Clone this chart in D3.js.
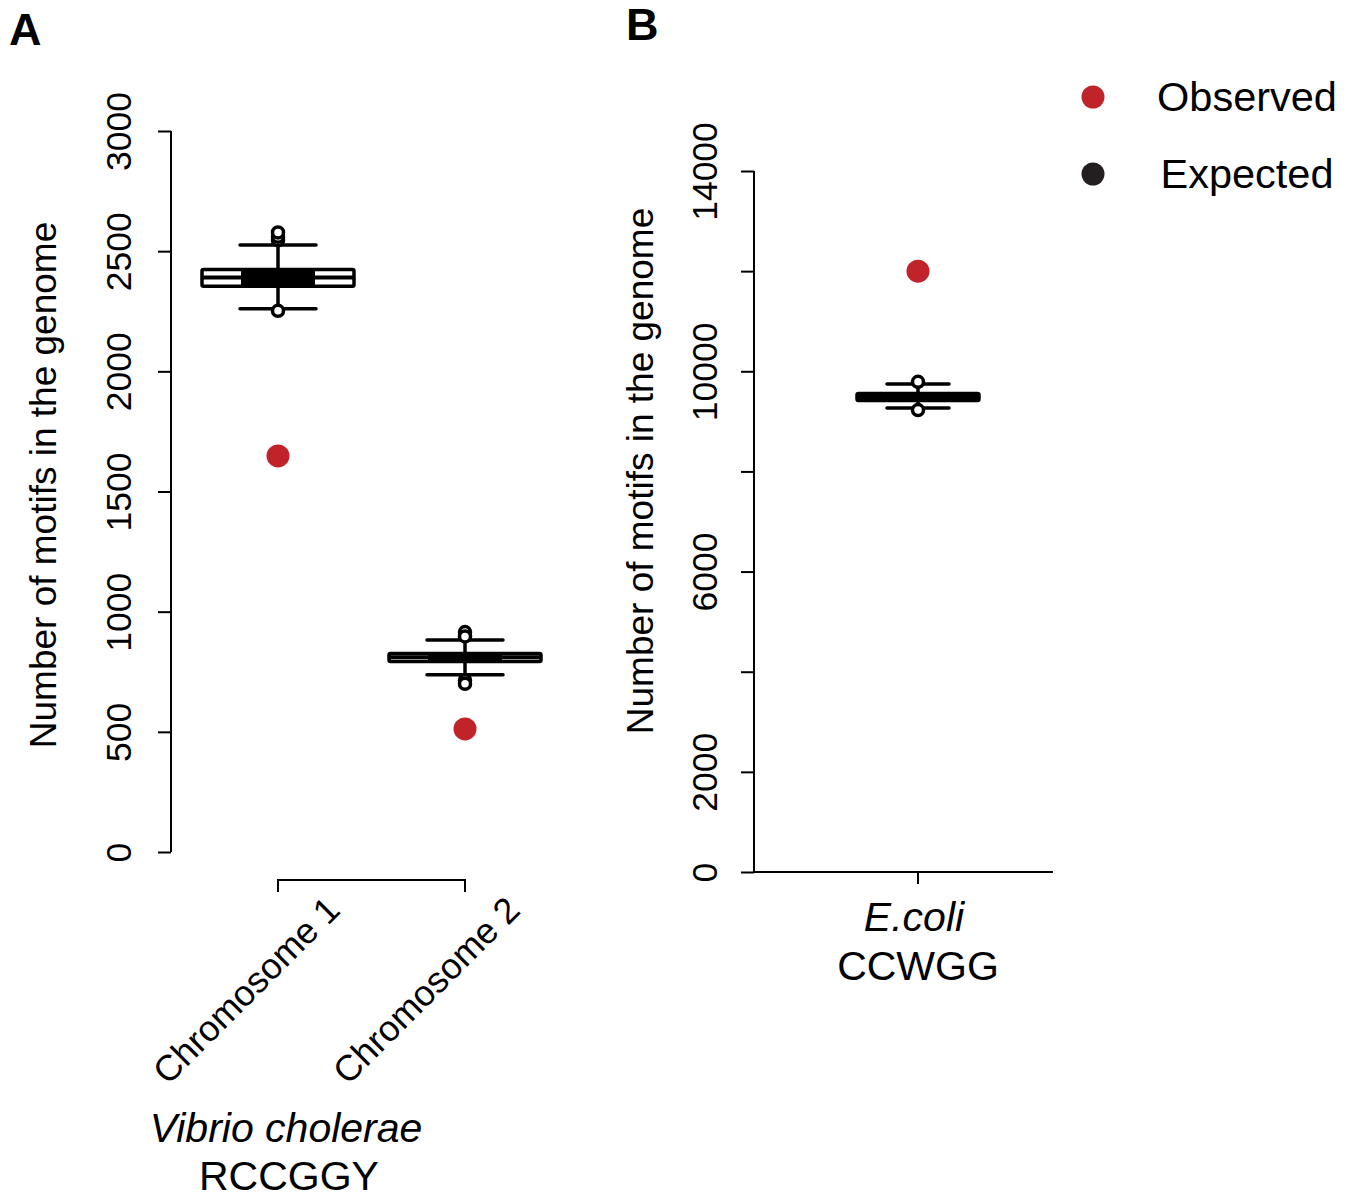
<!DOCTYPE html>
<html><head><meta charset="utf-8">
<script src="https://cdn.jsdelivr.net/npm/d3@7/dist/d3.min.js"></script>
<style>body{margin:0;background:#fff}svg{display:block}text{font-family:"Liberation Sans",Arial,Helvetica,sans-serif;fill:#000}</style>
</head><body>
<script>
// ---- data ----
const categoriesA = ["Chromosome 1", "Chromosome 2"];
// box stats: [lowerWhisker, Q1, median, Q3, upperWhisker]
const boxStatsA = [[2260, 2354, 2390, 2424, 2526], [737, 793, 810, 826, 882]];
const outliersA = [[2545, 2560, 2578, 2252], [915, 897, 715, 700]];
const observedA = [1648, 512];
const ticksA = [0, 500, 1000, 1500, 2000, 2500, 3000];

const categoriesB = ["E.coli"];
const boxStatsB = [[9267, 9417, 9486, 9556, 9746]];
const outliersB = [[9790, 9225]];
const observedB = [12000];
const ticksB = [0, 2000, 4000, 6000, 8000, 10000, 12000, 14000];
const tickLabelsB = ["0", "2000", "", "6000", "", "10000", "", "14000"];

const legendLabels = ["Observed", "Expected"];
const legendColors = ["#c1232b", "#231f20"];

const W = 1353, H = 1198;
const svg = d3.select("body").append("svg").attr("width", W).attr("height", H);
const red = "#c1232b";

function panel(opts) {
  const g = svg.append("g");
  const y = d3.scaleLinear().domain(opts.ydom).range(opts.yrange);
  const x = d3.scalePoint().domain(opts.cats).range(opts.xrange);
  const ax = d3.axisLeft(y).tickValues(opts.ticks).tickSize(13).tickSizeOuter(0)
    .tickFormat((d, i) => opts.tickLabels ? opts.tickLabels[i] : d);
  const yg = g.append("g").attr("transform", `translate(${opts.axisX},0)`).call(ax);
  yg.select(".domain").attr("stroke", "#000").attr("stroke-width", 2)
    .attr("d", `M0,${y(opts.ticks[0])}V${y(opts.ticks[opts.ticks.length-1])}`);
  yg.selectAll(".tick line").attr("stroke", "#000").attr("stroke-width", 2);
  yg.selectAll(".tick text").attr("font-size", 35.5).attr("text-anchor", "middle")
    .attr("x", 0).attr("dy", 0)
    .attr("transform", `translate(${opts.tickLabelX - opts.axisX},0) rotate(-90)`);
  g.append("text").attr("transform", `translate(${opts.ylabX},${opts.ylabY}) rotate(-90)`)
    .attr("text-anchor", "middle").attr("font-size", 37).text("Number of motifs in the genome");
  opts.stats.forEach((s, i) => {
    const cx = x(opts.cats[i]);
    const bg = g.append("g");
    bg.append("line").attr("x1", cx).attr("x2", cx).attr("y1", y(s[3])).attr("y2", y(s[4]))
      .attr("stroke", "#000").attr("stroke-width", 3.5);
    bg.append("line").attr("x1", cx).attr("x2", cx).attr("y1", y(s[1])).attr("y2", y(s[0]))
      .attr("stroke", "#000").attr("stroke-width", 3.5);
    [s[0], s[4]].forEach(v => bg.append("line").attr("x1", cx - opts.capHalf).attr("x2", cx + opts.capHalf)
      .attr("y1", y(v)).attr("y2", y(v)).attr("stroke", "#000").attr("stroke-width", 3.5).attr("stroke-linecap", "round"));
    bg.append("rect").attr("x", cx - opts.boxHalf).attr("width", 2 * opts.boxHalf)
      .attr("y", y(s[3])).attr("height", y(s[1]) - y(s[3]))
      .attr("fill", "#fff").attr("stroke", "#000").attr("stroke-width", 3.5).attr("rx", 1.5);
    bg.append("line").attr("x1", cx - opts.boxHalf).attr("x2", cx + opts.boxHalf)
      .attr("y1", y(s[2])).attr("y2", y(s[2])).attr("stroke", "#000").attr("stroke-width", opts.medW);
    bg.append("rect").attr("x", cx - opts.innerHalf).attr("width", 2 * opts.innerHalf)
      .attr("y", y(s[3])).attr("height", y(s[1]) - y(s[3])).attr("fill", "#000");
    opts.outliers[i].forEach(v => bg.append("circle").attr("cx", cx).attr("cy", y(v)).attr("r", 5.5)
      .attr("fill", "#fff").attr("stroke", "#000").attr("stroke-width", 3.5));
    bg.append("circle").attr("cx", cx).attr("cy", y(opts.observed[i])).attr("r", 11.5).attr("fill", red);
  });
  return {x, y, g};
}

// Panel A
const A = panel({ydom: [0, 3000], yrange: [852, 131], xrange: [278, 465], cats: categoriesA,
  ticks: ticksA, axisX: 171, tickLabelX: 131, ylabX: 56, ylabY: 485,
  stats: boxStatsA, outliers: outliersA, observed: observedA,
  boxHalf: 76, capHalf: 38, innerHalf: 37, medW: 4});
A.g.append("path").attr("d", `M${A.x(categoriesA[0])},892V880H${A.x(categoriesA[1])}V892`)
  .attr("fill", "none").attr("stroke", "#000").attr("stroke-width", 2);
const labelShift = [64, 57];
categoriesA.forEach((c, i) => {
  A.g.append("text").attr("transform", `translate(${A.x(c) + labelShift[i]},912) rotate(-45)`)
    .attr("text-anchor", "end").attr("font-size", 36).text(c);
});
A.g.append("text").attr("x", 286).attr("y", 1142).attr("text-anchor", "middle")
  .attr("font-size", 41).attr("font-style", "italic").text("Vibrio cholerae");
A.g.append("text").attr("x", 289).attr("y", 1190).attr("text-anchor", "middle")
  .attr("font-size", 41).text("RCCGGY");

// Panel B
const B = panel({ydom: [0, 14000], yrange: [872, 171], xrange: [918, 918], cats: categoriesB,
  ticks: ticksB, tickLabels: tickLabelsB, axisX: 754, tickLabelX: 717, ylabX: 653, ylabY: 471,
  stats: boxStatsB, outliers: outliersB, observed: observedB,
  boxHalf: 61, capHalf: 31, innerHalf: 61, medW: 4});
B.g.append("path").attr("d", `M754,872H1053M${B.x(categoriesB[0])},872V884`)
  .attr("fill", "none").attr("stroke", "#000").attr("stroke-width", 2);
B.g.append("text").attr("x", 914).attr("y", 931).attr("text-anchor", "middle")
  .attr("font-size", 41).attr("font-style", "italic").text(categoriesB[0]);
B.g.append("text").attr("x", 918).attr("y", 980).attr("text-anchor", "middle")
  .attr("font-size", 41).text("CCWGG");

// Legend
legendLabels.forEach((l, i) => {
  const yy = 97 + i * 77;
  svg.append("circle").attr("cx", 1093).attr("cy", yy).attr("r", 11.5).attr("fill", legendColors[i]);
  svg.append("text").attr("x", 1247).attr("y", yy + 14).attr("text-anchor", "middle")
    .attr("font-size", 41.5).text(l);
});

// Panel letters
svg.append("text").attr("x", 9).attr("y", 45).attr("font-size", 45).attr("font-weight", "bold").text("A");
svg.append("text").attr("x", 626).attr("y", 40).attr("font-size", 45).attr("font-weight", "bold").text("B");
</script>
</body></html>
